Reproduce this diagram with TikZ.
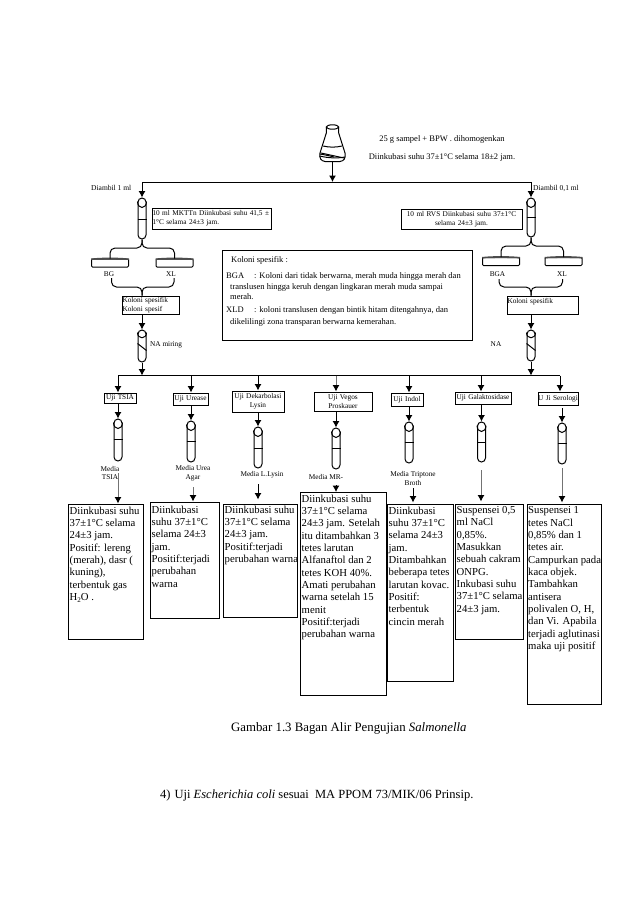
\documentclass[tikz,border=0pt]{standalone}
\usepackage{fontspec}
\setmainfont{Liberation Serif}
\usetikzlibrary{arrows.meta,calc}
\newcommand{\fz}[1]{\fontsize{#1}{#1}\selectfont}
\tikzset{
  x=1pt,y=-1pt,
  ln/.style={line width=1pt,black},
  arr/.style={ln,-{Latex[length=6.5pt,width=7pt]}},
  grayarr/.style={line width=1pt,black!55,-{Latex[length=6.5pt,width=7pt,black]}},
  rbrace/.style={ln,rounded corners=5pt},
  bx/.style={draw,ln,inner sep=0pt,rectangle},
  tubeshape/.style={draw,ln,inner sep=0pt,rectangle,rounded corners=4pt,minimum width=8pt},
  dishshape/.style={draw,ln,inner sep=0pt,rectangle,rounded corners=1pt,minimum width=37pt,minimum height=8pt},
  smalltxt/.style={font=\fontsize{7.3}{8.8}\selectfont,inner sep=0pt},
  midtxt/.style={font=\fontsize{8.5}{10.5}\selectfont,inner sep=0pt},
  bodytxt/.style={font=\fontsize{10.7}{12.35}\selectfont,inner sep=0pt,anchor=north west,align=left},
  captxt/.style={font=\fontsize{12.5}{14}\selectfont,inner sep=0pt},
}
% \bxn{name}{x1}{y1}{x2}{y2}{text}
\newcommand{\bxn}[6]{%
  \pgfmathsetmacro{\bw}{#4-#2}\pgfmathsetmacro{\bh}{#5-#3}%
  \node[bx,smalltxt,align=center,minimum width=\bw pt,minimum height=\bh pt,text width=\bw pt] (#1) at ({(#2+#4)/2},{(#3+#5)/2}) {#6};}
% \bxl: same box with left-aligned text
\newcommand{\bxl}[6]{%
  \pgfmathsetmacro{\bw}{#4-#2-1}\pgfmathsetmacro{\bwo}{#4-#2}\pgfmathsetmacro{\bh}{#5-#3}%
  \node[bx,smalltxt,align=left,minimum width=\bwo pt,minimum height=\bh pt,text width=\bw pt] (#1) at ({(#2+#4)/2},{(#3+#5)/2}) {#6};}
% \tube{name}{x}{top}{bottom}{y of line}
\newcommand{\tube}[5]{%
  \pgfmathsetmacro{\th}{#4-#3}%
  \node[tubeshape,minimum height=\th pt] (#1) at ({#2},{(#3+#4)/2}) {};
  \draw[ln] (#1.north west |- 0,#5) -- (#1.north east |- 0,#5);
  \draw[ln] ($(#1.north west)+(0,4)$) .. controls +(0,8) and +(0,8) .. ($(#1.north east)+(0,4)$);}
% \slanttube{name}{x}{top}{bottom}
\newcommand{\slanttube}[4]{%
  \pgfmathsetmacro{\th}{#4-#3}%
  \node[tubeshape,minimum height=\th pt] (#1) at ({#2},{(#3+#4)/2}) {};
  \draw[ln] ($(#1.north west)+(0,3)$) .. controls +(0,7) and +(0,7) .. ($(#1.north east)+(0,3)$);
  \draw[ln] ($(#1.north west)+(0,14)$) -- ($(#1.north east)+(0,21)$);}
% \dish{name}{x1}{y1}
\newcommand{\dish}[3]{%
  \node[dishshape,anchor=north west] (#1) at (#2,#3) {};
  \fill[black!70] (#1.north west) .. controls +(10,-1.2) and +(-10,-1.2) .. (#1.north east) -- ($(#1.north east)+(0,1.4)$) .. controls +(-10,-0.6) and +(10,-0.6) .. ($(#1.north west)+(0,1.4)$) -- cycle;}
\begin{document}
\begin{tikzpicture}
\useasboundingbox (0,0) rectangle (639,903);
\fill[white] (0,0) rectangle (639,903);

% flask
\node[minimum width=25pt,minimum height=37pt,inner sep=0pt] (flask) at (332.5,143.5) {};
\draw[ln] (332.5,127) ellipse [x radius=6.2,y radius=2.2];
\draw[ln] (326.3,127) -- (326.3,133) -- (320,153) .. controls (319,158) and (321,161) .. (325,161.5) -- (340,161.5) .. controls (344,161) and (346,158) .. (345,153) -- (338.7,133) -- (338.7,127);
\draw[ln] (323.2,146) .. controls (329,147.5) and (336,147.5) .. (342,146);
\draw[ln] (321,153) -- (344,158);
\draw[ln] (320,154) .. controls (326,155) and (330,156) .. (334,157);
\draw[ln] (319.5,156) .. controls (328,158) and (337,158.5) .. (345,157);

\node[midtxt] (t25) at (442,139) {25 g sampel + BPW . dihomogenkan};
\node[midtxt] (t37) at (442,157) {Diinkubasi suhu 37±1°C selama 18±2 jam.};

% top line
\coordinate (topL) at (142,182);
\coordinate (topM) at (332.5,182);
\coordinate (topR) at (531,182);
\draw[ln] (topL) -- (topR);
\draw[arr] (flask.south) -- (topM);

\node[smalltxt,anchor=west,font=\fontsize{7.5}{9}\selectfont] (d1) at (91,188) {Diambil 1 ml};
\node[smalltxt,anchor=west,font=\fontsize{7.5}{9}\selectfont] (d2) at (533,188) {Diambil 0,1 ml};

% left branch
\tube{tL}{142}{198}{239}{219}
\draw[arr] (topL) -- (tL.north);
\bxl{mk}{152}{208}{271}{229}{10 ml MKTTn Diinkubasi suhu 41,5 ±\\1°C selama 24±3 jam.}
\dish{bg}{91}{258.5}
\dish{xl}{155.5}{258.5}
\coordinate (lA) at (142,248);
\draw[rbrace] (bg.north) |- (lA) -- (tL.south);
\draw[rbrace] (xl.north) |- (lA) -- (tL.south);
\node[smalltxt] (lbg) at (109,274) {BG};
\node[smalltxt] (lxl) at (171,274) {XL};
\bxl{ks1}{122}{296}{179}{314}{Koloni spesifik\\Koloni spesif}
\coordinate (lB) at (142,287);
\coordinate (lbgd) at (111.5,278);
\coordinate (lxld) at (174,278);
\draw[rbrace] (lbgd) |- (lB) -- (ks1.north -| lB);
\draw[rbrace] (lxld) |- (lB) -- (ks1.north -| lB);
\slanttube{tL2}{142}{330}{362}
\draw[arr] (ks1.south -| tL2.north) -- (tL2.north);
\node[smalltxt,anchor=west] (nam) at (150,345) {NA miring};

% right branch
\tube{tR}{531}{198}{237}{217}
\draw[arr] (topR) -- (tR.north);
\bxn{rvs}{401}{209}{522}{229}{10 ml RVS Diinkubasi suhu 37±1°C\\selama 24±3 jam.}
\dish{bga}{482}{257}
\dish{xlr}{544.5}{257}
\coordinate (rA) at (531,246);
\draw[rbrace] (bga.north) |- (rA) -- (tR.south);
\draw[rbrace] (xlr.north) |- (rA) -- (tR.south);
\node[smalltxt] (lbga) at (497.5,274) {BGA};
\node[smalltxt] (lxlr) at (562,274) {XL};
\coordinate (rB) at (531,287);
\coordinate (rbgd) at (499,279);
\coordinate (rxld) at (562.5,279);
\bxl{ks2}{507}{296}{578}{314}{Koloni spesifik\\\mbox{}}
\draw[rbrace] (rbgd) |- (rB) -- (ks2.north -| rB);
\draw[rbrace] (rxld) |- (rB) -- (ks2.north -| rB);
\slanttube{tR2}{531}{330}{361}
\draw[arr] (ks2.south -| tR2.north) -- (tR2.north);
\node[smalltxt] (nar) at (496,344.5) {NA};

% middle box
\node[bx,minimum width=250pt,minimum height=90pt] (kol) at (347,295) {};
\node[midtxt,anchor=west] (k0) at (231,260) {Koloni spesifik :};
\node[midtxt,anchor=west] (k1a) at (226,276) {BGA};
\node[midtxt,anchor=west] (k1b) at (254,276) {: Koloni dari tidak berwarna, merah muda hingga merah dan};
\node[midtxt,anchor=west] (k2) at (230,287) {translusen hingga keruh dengan lingkaran merah muda sampai};
\node[midtxt,anchor=west] (k3) at (230,297) {merah.};
\node[midtxt,anchor=west] (k4a) at (226,310) {XLD};
\node[midtxt,anchor=west] (k4b) at (254,310) {: koloni translusen dengan bintik hitam ditengahnya, dan};
\node[midtxt,anchor=west] (k5) at (230,322) {dikelilingi zona transparan berwarna kemerahan.};

% distribution bar
\coordinate (barL) at (118,375.5);
\coordinate (barR) at (560,375.5);
\draw[ln] (barL) -- (barR);
\draw[arr] (tL2.south) -- (tL2.south |- barL);
\draw[arr] (tR2.south) -- (tR2.south |- barL);

% test boxes
\bxn{u1}{104}{393}{136}{403.5}{Uji TSIA}
\bxn{u2}{173}{393}{208}{405}{Uji Urease}
\bxn{u3}{232}{391}{284}{412}{Uji Dekarbolasi\\Lysin}
\bxn{u4}{314}{392}{372}{411}{Uji Vegos\\Proskauer}
\bxn{u5}{391}{393}{423}{406}{Uji Indol}
\bxn{u6}{455}{392}{511}{404}{Uji Galaktosidase}
\bxn{u7}{538}{392}{578}{405}{U Ji Serologi}
\draw[arr] (barL) -- (u1.north -| barL);
\coordinate (b2) at (191,375.5); \draw[arr] (b2) -- (u2.north -| b2);
\coordinate (b3) at (258,375.5); \draw[arr] (b3) -- (u3.north -| b3);
\coordinate (b4) at (336,375.5); \draw[grayarr] (b4) -- (u4.north -| b4);
\coordinate (b5) at (409,375.5); \draw[arr] (b5) -- (u5.north -| b5);
\coordinate (b6) at (481,375.5); \draw[arr] (b6) -- (u6.north -| b6);
\coordinate (b7) at (560,375.5); \draw[arr] (b7) -- (u7.north -| b7);

% tubes
\tube{t1}{118}{419}{461}{439}
\tube{t2}{191}{421}{462}{441}
\tube{t3}{258}{427}{468}{448}
\tube{t4}{336}{428}{469}{448}
\tube{t5}{409}{422}{463}{442}
\tube{t6}{481.5}{422}{462}{442}
\tube{t7}{562}{423}{464}{443}
\draw[arr] (u1.south -| t1.north) -- (t1.north);
\draw[arr] (u2.south -| t2.north) -- (t2.north);
\draw[arr] (u3.south -| t3.north) -- (t3.north);
\draw[arr] (u4.south -| t4.north) -- (t4.north);
\draw[arr] (u5.south -| t5.north) -- (t5.north);
\draw[arr] (u6.south -| t6.north) -- (t6.north);
\coordinate (s7) at (562,408);
\draw[arr] (s7) -- (t7.north);

% media labels
\node[smalltxt,align=center] (m1) at (110,473) {Media\\TSIA};
\node[smalltxt,align=center] (m2) at (193,473) {Media Urea\\Agar};
\node[smalltxt] (m3) at (262,475) {Media L.Lysin};
\node[smalltxt] (m4) at (326,477) {Media MR-};
\node[smalltxt,align=center] (m5) at (413,478.5) {Media Triptone\\Broth};

% result boxes
\bxn{r1}{68}{504}{143}{639}{}
\bxn{r2}{150}{502}{219}{618}{}
\bxn{r3}{223}{504}{297.5}{617}{}
\bxn{r4}{300}{492.5}{386}{695}{}
\bxn{r5}{387}{504}{453}{681}{}
\bxn{r6}{455}{504}{523}{639}{}
\bxn{r7}{527}{504}{601}{704}{}

\coordinate (a1) at (118,473); \draw[grayarr] (a1) -- (r1.north -| a1);
\coordinate (a2) at (193,487); \draw[grayarr] (a2) -- (r2.north -| a2);
\coordinate (a3) at (258,484); \draw[arr] (a3) -- ($(r3.north -| a3)+(0,-4)$);
\coordinate (a4) at (336,485); \draw[arr] (a4) -- (r4.north -| a4);
\coordinate (a5) at (413,488); \draw[arr] (a5) -- ($(r5.north -| a5)+(0,-1)$);
\coordinate (a6) at (481,470); \draw[grayarr] (a6) -- ($(r6.north -| a6)+(0,-2)$);
\coordinate (a7) at (562,468); \draw[grayarr] (a7) -- ($(r7.north -| a7)+(0,-1)$);

\node[bodytxt] (x1) at (69.5,506.5) {Diinkubasi suhu\\37±1°C selama\\24±3 jam.\\Positif: lereng\\(merah), dasr (\\kuning),\\terbentuk gas\\H{\fz{7}\raisebox{-1.5pt}{2}}O .};
\node[bodytxt] (x2) at (151.5,505.5) {Diinkubasi\\suhu 37±1°C\\selama 24±3\\jam.\\Positif:terjadi\\perubahan\\warna};
\node[bodytxt] (x3) at (224.5,505.5) {Diinkubasi suhu\\37±1°C selama\\24±3 jam.\\Positif:terjadi\\perubahan warna};
\node[bodytxt] (x4) at (301.5,494.5) {Diinkubasi suhu\\37±1°C selama\\24±3 jam. Setelah\\itu ditambahkan 3\\tetes larutan\\Alfanaftol dan 2\\tetes KOH 40\%.\\Amati perubahan\\warna setelah 15\\menit\\Positif:terjadi\\perubahan warna};
\node[bodytxt] (x5) at (388.5,506.5) {Diinkubasi\\suhu 37±1°C\\selama 24±3\\jam.\\Ditambahkan\\beberapa tetes\\larutan kovac.\\Positif:\\terbentuk\\cincin merah};
\node[bodytxt] (x6) at (456.5,506) {Suspensei 0,5\\ml NaCl\\0,85\%.\\Masukkan\\sebuah cakram\\ONPG.\\Inkubasi suhu\\37±1°C selama\\24±3 jam.};
\node[bodytxt] (x7) at (528,506.5) {Suspensei 1\\tetes NaCl\\0,85\% dan 1\\tetes air.\\Campurkan pada\\kaca objek.\\Tambahkan\\antisera\\polivalen O, H,\\dan Vi. Apabila\\terjadi aglutinasi\\maka uji positif};

% captions
\node[captxt,anchor=west,font=\fontsize{12.8}{14}\selectfont] (cap) at (231,728) {Gambar 1.3 Bagan Alir Pengujian \textit{Salmonella}};
\node[captxt,anchor=west] (nxt) at (160,795) {4)\hspace{4pt}Uji \textit{Escherichia coli} sesuai\hspace{3pt} MA PPOM 73/MIK/06 Prinsip.};
\end{tikzpicture}
\end{document}
